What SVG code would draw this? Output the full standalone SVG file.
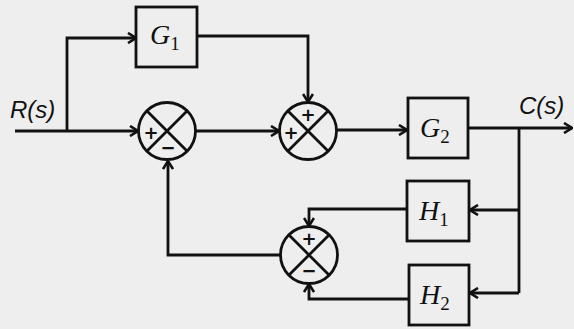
<svg xmlns="http://www.w3.org/2000/svg" width="574" height="329" viewBox="0 0 574 329">
<style>
.ln{fill:none;stroke:#111;stroke-width:2.8}
.bx{fill:none;stroke:#111;stroke-width:2.8}
.lbl{font-family:"Liberation Serif",serif;font-style:italic;font-size:28px;fill:#111}
.sub{font-family:"Liberation Serif",serif;font-size:19px;fill:#111}
.sig{font-family:"DejaVu Sans",sans-serif;font-size:18px;font-weight:bold;fill:#111;text-anchor:middle}
.io{font-family:"Liberation Sans",sans-serif;font-style:italic;font-size:24px;fill:#111}
</style>
<defs>
<marker id="ar" viewBox="0 0 10 12" refX="9" refY="6" markerWidth="10" markerHeight="12" markerUnits="userSpaceOnUse" orient="auto">
<path d="M1,1 L9,6 L1,11" fill="none" stroke="#111" stroke-width="2.6"/>
</marker>
</defs>
<rect width="574" height="329" fill="#eeeeee"/>
<g id="connectors">
<path class="ln" d="M15,131 H138" marker-end="url(#ar)"/>
<path class="ln" d="M67,131 V38 H136" marker-end="url(#ar)"/>
<path class="ln" d="M196,131 H279" marker-end="url(#ar)"/>
<path class="ln" d="M197,36 H308 V102" marker-end="url(#ar)"/>
<path class="ln" d="M337,130 H407" marker-end="url(#ar)"/>
<path class="ln" d="M468,128 H572" marker-end="url(#ar)"/>
<path class="ln" d="M519,128 V293"/>
<path class="ln" d="M519,210 H470" marker-end="url(#ar)"/>
<path class="ln" d="M519,293 H470" marker-end="url(#ar)"/>
<path class="ln" d="M407,209 H309 V226" marker-end="url(#ar)"/>
<path class="ln" d="M409,299 H309 V284" marker-end="url(#ar)"/>
<path class="ln" d="M281,255 H168 V161" marker-end="url(#ar)"/>
</g>
<g id="R">
<text class="io" x="10" y="118">R(s)</text>
</g>
<g id="C">
<text class="io" x="519" y="114">C(s)</text>
</g>
<g id="G1">
<rect class="bx" x="136" y="7" width="61" height="60"/>
<text x="150" y="44"><tspan class="lbl">G</tspan><tspan class="sub" dy="6">1</tspan></text>
</g>
<g id="G2">
<rect class="bx" x="408" y="98" width="60" height="60"/>
<text x="420" y="137"><tspan class="lbl">G</tspan><tspan class="sub" dy="6">2</tspan></text>
</g>
<g id="H1">
<rect class="bx" x="407" y="181" width="62" height="60"/>
<text x="419" y="220"><tspan class="lbl">H</tspan><tspan class="sub" dy="6">1</tspan></text>
</g>
<g id="H2">
<rect class="bx" x="409" y="265" width="60" height="60"/>
<text x="420" y="304"><tspan class="lbl">H</tspan><tspan class="sub" dy="6">2</tspan></text>
</g>
<g id="S1">
<circle class="ln" cx="167" cy="131" r="28.5"/>
<path class="ln" d="M147,111 L187,151 M187,111 L147,151"/>
<text class="sig" x="151" y="139">+</text>
<text class="sig" x="168" y="154">−</text>
</g>
<g id="S2">
<circle class="ln" cx="308" cy="131" r="28.5"/>
<path class="ln" d="M288,111 L328,151 M328,111 L288,151"/>
<text class="sig" x="308" y="121">+</text>
<text class="sig" x="291" y="139">+</text>
</g>
<g id="S3">
<circle class="ln" cx="309" cy="255" r="28.5"/>
<path class="ln" d="M289,235 L329,275 M329,235 L289,275"/>
<text class="sig" x="309" y="245">+</text>
<text class="sig" x="309" y="277">−</text>
</g>
</svg>
